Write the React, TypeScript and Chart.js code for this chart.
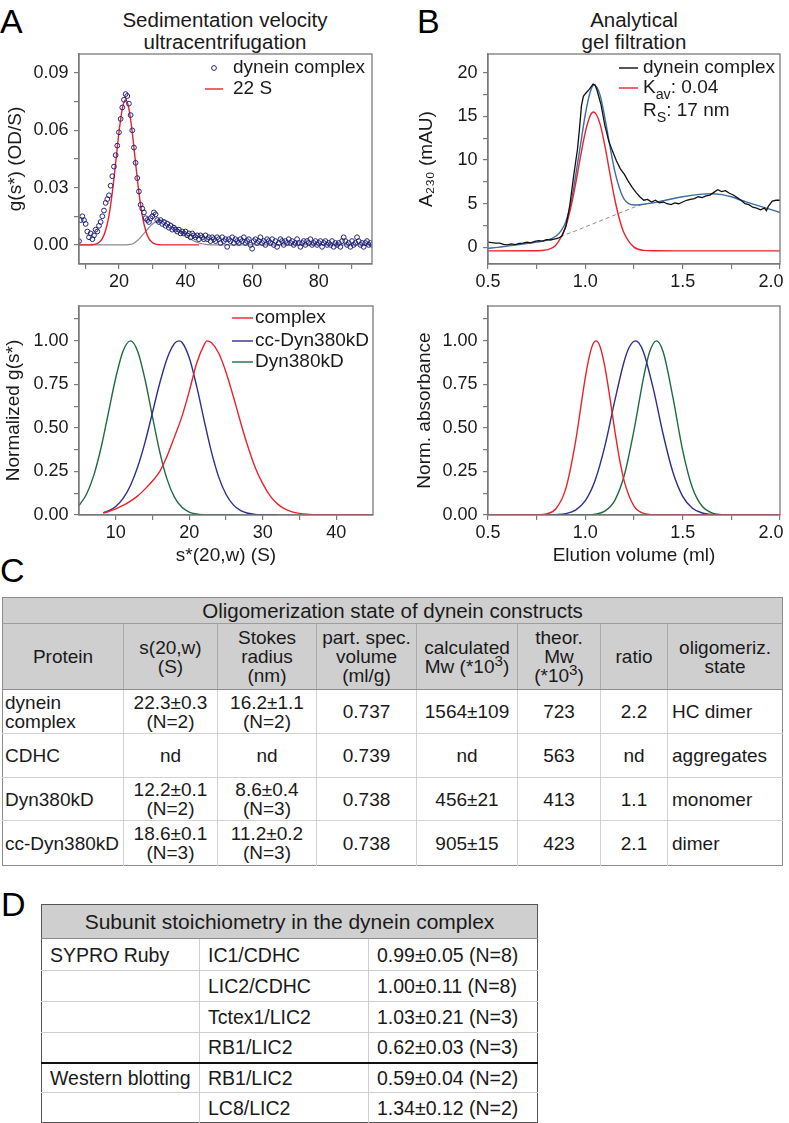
import React, { useEffect, useRef } from "react";
import { Chart, registerables } from "chart.js";

Chart.register(...registerables);

const FONT = '"Liberation Sans", Arial, Helvetica, sans-serif';
Chart.defaults.font.family = FONT;

type Pt = [number, number];

// ---------------- Panel A (top): sedimentation velocity ----------------
const sedPoints: Pt[] = [
  [8.0,0.002],[8.5,0.013],[9.0,0.015],[9.5,0.013],[10.0,0.011],[10.5,0.007],[11.0,0.004],[11.5,0.006],[12.0,0.003],[12.5,0.005],
  [13.0,0.008],[13.5,0.007],[14.0,0.010],[14.5,0.012],[15.0,0.015],[15.5,0.018],[16.0,0.022],[16.5,0.024],[17.0,0.026],[17.5,0.031],
  [18.0,0.036],[18.5,0.041],[19.0,0.047],[19.5,0.052],[20.0,0.059],[20.5,0.066],[21.0,0.072],[21.5,0.076],[22.0,0.079],[22.5,0.078],
  [23.0,0.074],[23.5,0.068],[24.0,0.060],[24.5,0.051],[25.0,0.043],[25.5,0.035],[26.0,0.028],[26.5,0.021],[27.0,0.019],[27.5,0.017],
  [28.0,0.014],[28.5,0.013],[29.0,0.012],[29.5,0.014],[30.0,0.015],[30.5,0.017],[31.0,0.016],[31.5,0.013],[32.0,0.012],[32.5,0.013],
  [33.0,0.011],[33.5,0.012],[34.0,0.010],[34.5,0.011],[35.0,0.009],[35.5,0.010],[36.0,0.008],[36.5,0.009],[37.0,0.008],[37.5,0.007],
  [38.0,0.008],[38.5,0.006],[39.0,0.007],[39.5,0.006],[40.0,0.007],[40.5,0.005],[41.0,0.006],[41.5,0.004],[42.0,0.006],[42.5,0.005],
  [43.0,0.004],[43.5,0.005],[44.0,0.003],[44.5,0.005],[45.0,0.004],[45.5,0.003],[46.0,0.005],[46.5,0.003],[47.0,0.004],[47.5,0.002],
  [48.0,0.004],[48.5,0.003],[49.0,0.002],[49.5,0.004],[50.0,0.003],[50.5,0.001],[51.0,0.004],[51.5,0.002],[52.0,0.003],[52.5,-0.001],
  [53.0,0.003],[53.5,0.002],[54.0,0.004],[54.5,0.001],[55.0,0.003],[55.5,0.002],[56.0,0.001],[56.5,0.003],[57.0,0.002],[57.5,0.004],
  [58.0,0.001],[58.5,0.002],[59.0,0.003],[59.5,0.000],[60.0,-0.002],[60.5,0.002],[61.0,0.003],[61.5,0.001],[62.0,0.002],[62.5,0.004],
  [63.0,0.001],[63.5,0.002],[64.0,0.000],[64.5,0.003],[65.0,0.002],[65.5,0.001],[66.0,0.003],[66.5,0.000],[67.0,0.002],[67.5,-0.001],
  [68.0,0.001],[68.5,0.003],[69.0,0.002],[69.5,0.000],[70.0,0.002],[70.5,0.001],[71.0,0.003],[71.5,0.001],[72.0,0.002],[72.5,0.000],
  [73.0,0.001],[73.5,0.003],[74.0,0.001],[74.5,-0.001],[75.0,0.001],[75.5,0.002],[76.0,0.000],[76.5,0.002],[77.0,0.001],[77.5,0.003],
  [78.0,0.000],[78.5,0.001],[79.0,0.002],[79.5,0.000],[80.0,0.001],[80.5,0.002],[81.0,-0.001],[81.5,0.001],[82.0,0.002],[82.5,0.000],
  [83.0,0.001],[83.5,0.000],[84.0,0.002],[84.5,-0.001],[85.0,0.001],[85.5,0.000],[86.0,0.001],[86.5,-0.001],[87.0,0.002],[87.5,0.004],
  [88.0,0.002],[88.5,0.000],[89.0,0.001],[89.5,-0.001],[90.0,0.002],[90.5,0.000],[91.0,0.001],[91.5,0.004],[92.0,0.002],[92.5,0.000],
  [93.0,0.001],[93.5,-0.001],[94.0,0.001],[94.5,0.002],[95.0,0.000],[95.5,0.001],[96.0,0.000],
];
const fit22S: Pt[] = [
  [8,0],[10,0],[11,0.00002],[12,0.0001],[13,0.0004],[14,0.0013],[15,0.0033],[16,0.0077],[17,0.0154],[18,0.0274],
  [19,0.0428],[20,0.0589],[21,0.0713],[22,0.076],[23,0.0713],[24,0.0589],[25,0.0428],[26,0.0274],[27,0.0154],[28,0.0077],
  [29,0.0033],[30,0.0013],[31,0.0004],[32,0.0001],[34,0],[44,0],
];
const fitSecond: Pt[] = [
  [8,0],[22,0],[23,0.0002],[24,0.0005],[25,0.0015],[26,0.003],[27,0.005],[28,0.007],[29,0.009],[30,0.0108],[31,0.012],
  [32,0.0127],[33,0.013],[34,0.0127],[35,0.012],[36,0.011],[37,0.0095],[38,0.008],[39,0.0065],[40,0.005],[41,0.0037],
  [42,0.0026],[43,0.0017],[44,0.001],[45,0.0006],[46,0.0003],[47,0.0001],[48,0],[96,0],
];
const sedXTicks = [10, 20, 30, 40, 50, 60, 70, 80, 90];
const sedXLabels = [20, 40, 60, 80];
const sedYTicks = [0, 0.015, 0.03, 0.045, 0.06, 0.075, 0.09];
const sedYLabels = [0, 0.03, 0.06, 0.09];

// ---------------- Panel A (bottom): normalized g(s*) ----------------
const normComplex: Pt[] = [
  [8.3,0.012],[9,0.02],[10,0.035],[11,0.055],[12,0.08],[13,0.11],[14,0.15],[15,0.195],[16,0.25],[17,0.34],[18,0.45],
  [19,0.565],[20,0.71],[21,0.87],[22,0.975],[22.4,1.0],[23,0.99],[24,0.93],[25,0.82],[26,0.68],[27,0.53],[28,0.39],
  [29,0.27],[30,0.18],[31,0.11],[32,0.064],[33,0.035],[34,0.018],[35,0.009],[36,0.004],[37,0.002],[38,0.001],[40,0],[45,0],
];
const normCcDyn: Pt[] = [
  [8.3,0.013],[9,0.023],[10,0.049],[11,0.095],[12,0.169],[13,0.278],[14,0.42],[15,0.589],[16,0.759],[17,0.9],[18,0.985],
  [18.6,1.0],[19,0.992],[20,0.903],[21,0.741],[22,0.548],[23,0.365],[24,0.219],[25,0.119],[26,0.058],[27,0.025],[28,0.01],
  [29,0.0036],[30,0.0012],[31,0.0003],[32,0],
];
const normDyn: Pt[] = [
  [5,0.054],[6,0.118],[7,0.226],[8,0.386],[9,0.586],[10,0.788],[11,0.942],[12,1.0],[13,0.938],[14,0.775],[15,0.563],
  [16,0.36],[17,0.203],[18,0.101],[19,0.044],[20,0.017],[21,0.006],[22,0.0017],[23,0.0004],[24,0],[26,0],
];
const normXTicks = [10, 15, 20, 25, 30, 35, 40];
const normXLabels = [10, 20, 30, 40];
const normYTicks = [0, 0.125, 0.25, 0.375, 0.5, 0.625, 0.75, 0.875, 1.0, 1.125];
const normYLabels = [0, 0.25, 0.5, 0.75, 1.0];

// ---------------- Panel B (top): analytical gel filtration ----------------
const gfData: Pt[] = [
  [0.5,0.6],[0.52,0.55],[0.54,0.5],[0.56,0.48],[0.58,0.35],[0.6,0.3],[0.62,0.4],[0.64,0.33],[0.66,0.45],[0.68,0.48],
  [0.7,0.6],[0.72,0.52],[0.74,0.68],[0.76,0.78],[0.78,0.72],[0.8,0.88],[0.82,0.85],[0.84,0.95],[0.86,1.05],[0.88,1.3],
  [0.9,2.4],[0.92,4.8],[0.94,8.2],[0.96,11.3],[0.97,13.6],[0.98,16.2],[0.99,17.3],[1.0,17.6],[1.02,18.1],[1.04,18.7],
  [1.05,18.6],[1.06,18.0],[1.08,16.4],[1.1,14.0],[1.12,12.2],[1.14,11.0],[1.16,9.9],[1.18,9.0],[1.2,8.4],[1.22,7.6],
  [1.24,6.9],[1.26,6.3],[1.28,5.8],[1.3,5.4],[1.32,5.5],[1.34,5.2],[1.36,5.4],[1.38,5.1],[1.4,5.2],[1.42,5.0],
  [1.44,4.9],[1.46,5.1],[1.48,5.0],[1.5,5.2],[1.52,5.4],[1.54,5.5],[1.56,5.6],[1.58,5.8],[1.6,5.7],[1.62,5.9],
  [1.64,6.0],[1.66,6.3],[1.68,6.6],[1.7,6.4],[1.72,6.5],[1.74,6.2],[1.76,6.0],[1.78,5.7],[1.8,5.4],[1.82,5.0],
  [1.84,4.9],[1.86,4.6],[1.88,4.5],[1.9,4.3],[1.92,4.5],[1.93,4.2],[1.94,4.7],[1.96,5.3],[1.98,5.4],[2.0,5.4],
];
const gfPeakFit: Pt[] = [
  [0.5,-0.4],[0.75,-0.39],[0.8,-0.29],[0.85,0.29],[0.9,2.44],[0.925,4.52],[0.95,7.27],[0.975,10.37],[1.0,13.2],
  [1.025,15.07],[1.043,15.5],[1.075,14.18],[1.1,11.69],[1.125,8.62],[1.15,5.66],[1.175,3.26],[1.2,1.59],[1.25,0.03],
  [1.3,-0.34],[1.35,-0.39],[1.5,-0.4],[2.0,-0.4],
];
const gfTotalFit: Pt[] = [
  [0.5,-0.1],[0.55,0.0],[0.6,0.15],[0.65,0.3],[0.7,0.45],[0.75,0.6],[0.8,0.8],[0.85,1.3],[0.875,1.9],[0.9,2.95],
  [0.925,4.95],[0.95,8.2],[0.975,11.7],[1.0,15.25],[1.025,17.8],[1.045,18.6],[1.075,17.5],[1.1,14.9],[1.125,11.75],
  [1.15,8.85],[1.175,6.8],[1.2,5.5],[1.25,4.85],[1.3,4.95],[1.35,5.1],[1.4,5.35],[1.5,5.8],[1.6,6.1],[1.65,6.15],
  [1.7,6.05],[1.75,5.8],[1.8,5.4],[1.85,5.05],[1.9,4.7],[1.95,4.35],[2.0,4.0],
];
const gfBaseline: Pt[] = [
  [0.87,1.25],[0.95,1.9],[1.0,2.35],[1.05,2.8],[1.1,3.25],[1.15,3.7],[1.2,4.15],[1.25,4.6],[1.3,4.95],[1.35,5.15],
];
const elXTicks = [0.5, 0.75, 1.0, 1.25, 1.5, 1.75, 2.0];
const elXLabels = [0.5, 1.0, 1.5, 2.0];
const gfYTicks = [0, 2.5, 5, 7.5, 10, 12.5, 15, 17.5, 20];
const gfYLabels = [0, 5, 10, 15, 20];

// ---------------- Panel B (bottom): normalized absorbance ----------------
const elComplex: Pt[] = [
  [0.5,0],[0.7,0],[0.75,0.0007],[0.8,0.0062],[0.85,0.0376],[0.9,0.153],[0.95,0.423],[0.975,0.607],[1.0,0.79],
  [1.025,0.932],[1.04,0.983],[1.055,1.0],[1.075,0.969],[1.1,0.854],[1.125,0.682],[1.15,0.494],[1.175,0.325],
  [1.2,0.193],[1.25,0.051],[1.3,0.0092],[1.35,0.0011],[1.4,0],[2.0,0],
];
const elCcDyn: Pt[] = [
  [0.7,0],[0.75,0.0001],[0.8,0.0004],[0.85,0.0019],[0.9,0.0081],[0.95,0.0284],[1.0,0.082],[1.05,0.198],[1.1,0.394],
  [1.15,0.649],[1.2,0.884],[1.225,0.962],[1.257,1.0],[1.275,0.988],[1.3,0.932],[1.35,0.721],[1.4,0.462],[1.45,0.245],
  [1.5,0.107],[1.55,0.039],[1.6,0.0117],[1.65,0.0029],[1.7,0.0006],[1.75,0.0001],[1.8,0],[2.0,0],
];
const elDyn: Pt[] = [
  [0.85,0],[0.95,0.0001],[1.0,0.0007],[1.05,0.0046],[1.1,0.022],[1.15,0.081],[1.2,0.228],[1.25,0.487],[1.3,0.795],
  [1.33,0.936],[1.365,1.0],[1.4,0.936],[1.45,0.675],[1.5,0.371],[1.55,0.156],[1.6,0.05],[1.65,0.012],[1.7,0.0022],
  [1.75,0.0003],[1.8,0],[2.0,0],
];

// ---------------- Table C ----------------
const tableCTitle = "Oligomerization state of dynein constructs";
const tableCHeaders = [
  "Protein",
  "s(20,w)\n(S)",
  "Stokes\nradius\n(nm)",
  "part. spec.\nvolume\n(ml/g)",
  "calculated\nMw (*10^{3})",
  "theor.\nMw\n(*10^{3})",
  "ratio",
  "oligomeriz.\nstate",
];
const tableCRows = [
  ["dynein\ncomplex", "22.3±0.3\n(N=2)", "16.2±1.1\n(N=2)", "0.737", "1564±109", "723", "2.2", "HC dimer"],
  ["CDHC", "nd", "nd", "0.739", "nd", "563", "nd", "aggregates"],
  ["Dyn380kD", "12.2±0.1\n(N=2)", "8.6±0.4\n(N=3)", "0.738", "456±21", "413", "1.1", "monomer"],
  ["cc-Dyn380kD", "18.6±0.1\n(N=3)", "11.2±0.2\n(N=3)", "0.738", "905±15", "423", "2.1", "dimer"],
];

// ---------------- Table D ----------------
const tableDTitle = "Subunit stoichiometry in the dynein complex";
const tableDRows = [
  ["SYPRO Ruby", "IC1/CDHC", "0.99±0.05 (N=8)"],
  ["", "LIC2/CDHC", "1.00±0.11 (N=8)"],
  ["", "Tctex1/LIC2", "1.03±0.21 (N=3)"],
  ["", "RB1/LIC2", "0.62±0.03 (N=3)"],
  ["Western blotting", "RB1/LIC2", "0.59±0.04 (N=2)"],
  ["", "LC8/LIC2", "1.34±0.12 (N=2)"],
];

// ---------------- styling ----------------
const RED = "#e8232b";
const NAVY = "#23237d";
const INDIGO = "#2e2e8c";
const GREEN = "#1f6a45";
const STEEL = "#3b6da6";
const GRAY = "#8a8a8a";
const AXIS = "#7a7a7a";
const TXT = "#1a1a1a";

const toXY = (pts: Pt[]) => pts.map(([x, y]) => ({ x, y }));

function parseRich(s: string) {
  const out: { t: string; sub?: boolean; sup?: boolean }[] = [];
  const re = /(_\{[^}]*\}|\^\{[^}]*\})/;
  s.split(re).forEach((p) => {
    if (!p) return;
    if (p.startsWith("_{")) out.push({ t: p.slice(2, -1), sub: true });
    else if (p.startsWith("^{")) out.push({ t: p.slice(2, -1), sup: true });
    else out.push({ t: p });
  });
  return out;
}

const framePlugin = {
  id: "frame",
  afterDraw(chart: any) {
    const { ctx, chartArea: a } = chart;
    ctx.save();
    ctx.strokeStyle = AXIS;
    ctx.lineWidth = 1.3;
    ctx.strokeRect(a.left, a.top, a.right - a.left, a.bottom - a.top);
    ctx.restore();
  },
};

const insideLegend = {
  id: "insideLegend",
  afterDraw(chart: any, _args: any, opts: any) {
    if (!opts || !opts.rows) return;
    const ctx = chart.ctx;
    ctx.save();
    opts.rows.forEach((row: any) => {
      const ds = row.ds !== undefined ? chart.data.datasets[row.ds] : null;
      const color = ds ? (row.marker === "circle" ? ds.pointBorderColor : ds.borderColor) : TXT;
      const text = row.text ?? (ds ? ds.label : "");
      const y = row.y;
      if (row.marker === "line") {
        ctx.strokeStyle = color;
        ctx.lineWidth = 1.4;
        ctx.beginPath();
        ctx.moveTo(opts.markerX, y);
        ctx.lineTo(opts.markerX + opts.markerLen, y);
        ctx.stroke();
      } else if (row.marker === "circle") {
        ctx.strokeStyle = color;
        ctx.lineWidth = 1;
        ctx.beginPath();
        ctx.arc(opts.markerX + opts.markerLen / 2, y, 2.4, 0, Math.PI * 2);
        ctx.stroke();
      }
      let tx = opts.textX;
      ctx.fillStyle = TXT;
      ctx.textBaseline = "middle";
      ctx.textAlign = "left";
      parseRich(text).forEach((seg) => {
        const size = seg.sub ? opts.size * 0.75 : opts.size;
        ctx.font = `${size}px ${FONT}`;
        ctx.fillText(seg.t, tx, y + (seg.sub ? opts.size * 0.38 : 0));
        tx += ctx.measureText(seg.t).width;
      });
    });
    ctx.restore();
  },
};

function makeAxis(o: any, isX: boolean) {
  const has = (arr: number[], v: number) => arr.some((l) => Math.abs(l - v) < 1e-9);
  return {
    type: "linear",
    position: isX ? "bottom" : "left",
    min: o.min,
    max: o.max,
    afterBuildTicks: (s: any) => {
      s.ticks = o.ticks.map((v: number) => ({ value: v }));
    },
    afterFit: (s: any) => {
      if (isX) s.height = o.size;
      else s.width = o.size;
      s.paddingLeft = 0;
      s.paddingRight = 0;
      s.paddingTop = 0;
      s.paddingBottom = 0;
    },
    grid: { drawOnChartArea: false, drawTicks: true, tickLength: 5, color: AXIS, lineWidth: 1.2 },
    border: { display: true, color: AXIS, width: 1.3 },
    ticks: {
      autoSkip: false,
      maxRotation: 0,
      minRotation: 0,
      padding: isX ? 2 : 5.5,
      color: TXT,
      font: { family: FONT, size: 18 },
      callback: (v: number) => {
        if (!has(o.labels, v)) return "";
        const s = v.toFixed(o.digits);
        return o.padLast && Math.abs(v - o.max) < 1e-9 ? s + "\u2003" : s;
      },
    },
    title: o.title
      ? {
          display: true,
          text: o.title,
          color: TXT,
          font: { family: FONT, size: 19 },
          padding: { top: o.titlePad, bottom: o.titlePad },
        }
      : { display: false },
  };
}

function makeOptions(x: any, y: any, padding: any, legend: any) {
  return {
    responsive: false,
    maintainAspectRatio: false,
    animation: false,
    events: [],
    layout: { padding },
    scales: { x: makeAxis(x, true), y: makeAxis(y, false) },
    plugins: {
      legend: { display: false },
      tooltip: { enabled: false },
      insideLegend: legend,
    },
  };
}

const curve = (label: string, pts: Pt[], color: string, extra: any = {}) => ({
  label,
  data: toXY(pts),
  showLine: true,
  pointRadius: 0,
  borderColor: color,
  backgroundColor: color,
  borderWidth: 1.4,
  cubicInterpolationMode: "monotone",
  ...extra,
});

function sedConfig(): any {
  return {
    type: "scatter",
    data: {
      datasets: [
        {
          label: "dynein complex",
          data: toXY(sedPoints),
          showLine: false,
          pointRadius: 2.4,
          pointBorderWidth: 1,
          pointBorderColor: NAVY,
          pointBackgroundColor: "rgba(255,255,255,0)",
          borderColor: NAVY,
        },
        curve("22 S", fit22S, RED),
        curve("second species", fitSecond, GRAY, { borderWidth: 1.2 }),
      ],
    },
    options: makeOptions(
      { min: 8, max: 96, ticks: sedXTicks, labels: sedXLabels, digits: 0, size: 26 },
      { min: -0.01, max: 0.1, ticks: sedYTicks, labels: sedYLabels, digits: 2, size: 79, title: "g(s*) (OD/S)", titlePad: 4.5 },
      { left: 0, top: 14, right: 18, bottom: 0 },
      {
        markerX: 205, markerLen: 18, textX: 233, size: 19,
        rows: [ { ds: 0, marker: "circle", y: 28 }, { ds: 1, marker: "line", y: 49 } ],
      }
    ),
    plugins: [framePlugin, insideLegend],
  };
}

function normConfig(): any {
  return {
    type: "scatter",
    data: {
      datasets: [
        curve("complex", normComplex, RED),
        curve("cc-Dyn380kD", normCcDyn, INDIGO),
        curve("Dyn380kD", normDyn, GREEN),
      ],
    },
    options: makeOptions(
      { min: 5, max: 45, ticks: normXTicks, labels: normXLabels, digits: 0, size: 60, title: "s*(20,w) (S)", titlePad: 7.5 },
      { min: 0, max: 1.2, ticks: normYTicks, labels: normYLabels, digits: 2, size: 79, title: "Normalized g(s*)", titlePad: 2 },
      { left: 0, top: 11, right: 17, bottom: 0 },
      {
        markerX: 232, markerLen: 21, textX: 255, size: 19,
        rows: [ { ds: 0, marker: "line", y: 23 }, { ds: 1, marker: "line", y: 46 }, { ds: 2, marker: "line", y: 67 } ],
      }
    ),
    plugins: [framePlugin, insideLegend],
  };
}

function gfConfig(): any {
  return {
    type: "scatter",
    data: {
      datasets: [
        curve("dynein complex", gfData, "#111111", { cubicInterpolationMode: "default", tension: 0, borderWidth: 1.3 }),
        curve("K_{av}: 0.04", gfPeakFit, RED),
        curve("total fit", gfTotalFit, STEEL),
        curve("baseline", gfBaseline, GRAY, { borderWidth: 1, borderDash: [4, 3] }),
      ],
    },
    options: makeOptions(
      { min: 0.5, max: 2.0, ticks: elXTicks, labels: elXLabels, digits: 1, size: 26, padLast: true },
      { min: -1.9, max: 22.15, ticks: gfYTicks, labels: gfYLabels, digits: 0, size: 88, title: "A\u2082\u2083\u2080 (mAU)", titlePad: 15 },
      { left: 0, top: 14, right: 9, bottom: 0 },
      {
        markerX: 219, markerLen: 19, textX: 243, size: 19,
        rows: [
          { ds: 0, marker: "line", y: 28 },
          { ds: 1, marker: "line", y: 48 },
          { text: "R_{S}: 17 nm", marker: "none", y: 71 },
        ],
      }
    ),
    plugins: [framePlugin, insideLegend],
  };
}

function elConfig(): any {
  return {
    type: "scatter",
    data: {
      datasets: [
        curve("complex", elComplex, RED),
        curve("cc-Dyn380kD", elCcDyn, INDIGO),
        curve("Dyn380kD", elDyn, GREEN),
      ],
    },
    options: makeOptions(
      { min: 0.5, max: 2.0, ticks: elXTicks, labels: elXLabels, digits: 1, size: 60, padLast: true, title: "Elution volume (ml)", titlePad: 7.5 },
      { min: 0, max: 1.2, ticks: normYTicks, labels: normYLabels, digits: 2, size: 88, title: "Norm. absorbance", titlePad: 13.5 },
      { left: 0, top: 11, right: 9, bottom: 0 },
      null
    ),
    plugins: [framePlugin, insideLegend],
  };
}

function ChartCanvas(props: { left: number; top: number; width: number; height: number; make: () => any }) {
  const ref = useRef<HTMLCanvasElement>(null);
  useEffect(() => {
    const chart = new Chart(ref.current as HTMLCanvasElement, props.make());
    return () => chart.destroy();
  }, []);
  return (
    <canvas
      ref={ref}
      width={props.width}
      height={props.height}
      style={{ position: "absolute", left: props.left, top: props.top, width: props.width, height: props.height }}
    />
  );
}

function Rich({ s }: { s: string }) {
  const lines = s.split("\n");
  return (
    <>
      {lines.map((ln, i) => (
        <React.Fragment key={i}>
          {i > 0 && <br />}
          {parseRich(ln).map((seg, j) =>
            seg.sup ? (
              <sup key={j} style={{ fontSize: "0.8em", lineHeight: 0, verticalAlign: "0.45em" }}>{seg.t}</sup>
            ) : (
              <span key={j}>{seg.t}</span>
            )
          )}
        </React.Fragment>
      ))}
    </>
  );
}

const letterStyle = (left: number, top: number): React.CSSProperties => ({
  position: "absolute", left, top, fontSize: 34, lineHeight: "34px", fontFamily: FONT, color: "#000",
});

const titleStyle = (center: number): React.CSSProperties => ({
  position: "absolute", left: center - 150, width: 300, top: 8.5, textAlign: "center",
  fontSize: 20.5, lineHeight: "22px", fontFamily: FONT, color: TXT,
});

function TableC() {
  const widths = [121, 94, 99, 100, 101, 83, 67, 115];
  const rowH = [44, 44, 43, 45];
  const hdrBorder = "1px solid #a9a9a9";
  const cellBorder = "1px solid #d2d2d2";
  return (
    <table
      style={{
        position: "absolute", left: 2, top: 597, width: 780, borderCollapse: "collapse", tableLayout: "fixed",
        fontFamily: FONT, fontSize: 19, lineHeight: "19px", color: TXT, border: "1.5px solid #8c8c8c",
      }}
    >
      <colgroup>{widths.map((w, i) => <col key={i} style={{ width: w }} />)}</colgroup>
      <tbody>
        <tr style={{ height: 26, background: "#cfcfcf" }}>
          <td colSpan={8} style={{ textAlign: "center", fontSize: 20.5, padding: 0, borderBottom: "1px solid #9d9d9d" }}>
            {tableCTitle}
          </td>
        </tr>
        <tr style={{ height: 66, background: "#cfcfcf" }}>
          {tableCHeaders.map((h, i) => (
            <td key={i} style={{ textAlign: "center", padding: 0, borderLeft: i ? hdrBorder : undefined, borderBottom: "1.5px solid #8c8c8c" }}>
              <Rich s={h} />
            </td>
          ))}
        </tr>
        {tableCRows.map((r, ri) => (
          <tr key={ri} style={{ height: rowH[ri], background: "#fff" }}>
            {r.map((c, ci) => (
              <td
                key={ci}
                style={{
                  textAlign: ci === 0 || ci === 7 ? "left" : "center",
                  padding: ci === 0 ? "0 0 0 2px" : ci === 7 ? "0 0 0 4px" : 0,
                  borderLeft: ci ? cellBorder : undefined,
                  borderTop: ri ? cellBorder : undefined,
                  whiteSpace: "nowrap",
                }}
              >
                <Rich s={c} />
              </td>
            ))}
          </tr>
        ))}
      </tbody>
    </table>
  );
}

function TableD() {
  const widths = [158, 169, 169];
  const rowH = [32, 31, 31, 30, 30, 30];
  const cellBorder = "1px solid #cfcfcf";
  return (
    <table
      style={{
        position: "absolute", left: 41, top: 904, width: 496, borderCollapse: "collapse", tableLayout: "fixed",
        fontFamily: FONT, fontSize: 19.5, lineHeight: "20px", color: TXT, border: "1.5px solid #555",
      }}
    >
      <colgroup>{widths.map((w, i) => <col key={i} style={{ width: w }} />)}</colgroup>
      <tbody>
        <tr style={{ height: 34, background: "#cfcfcf" }}>
          <td colSpan={3} style={{ textAlign: "center", fontSize: 21, padding: 0, borderBottom: "1.5px solid #8a8a8a" }}>
            {tableDTitle}
          </td>
        </tr>
        {tableDRows.map((r, ri) => (
          <tr key={ri} style={{ height: rowH[ri] }}>
            {r.map((c, ci) => (
              <td
                key={ci}
                style={{
                  textAlign: "left",
                  padding: "0 0 0 8px",
                  whiteSpace: "nowrap",
                  borderLeft: ci ? cellBorder : undefined,
                  borderTop: ri === 4 ? "2px solid #111" : ri ? cellBorder : undefined,
                }}
              >
                {c}
              </td>
            ))}
          </tr>
        ))}
      </tbody>
    </table>
  );
}

export default function App() {
  return (
    <div
      style={{
        position: "absolute", left: 0, top: 0, width: 789, height: 1123, overflow: "hidden",
        background: "#fff", fontFamily: FONT,
      }}
    >
      <div style={letterStyle(0, 3.5)}>A</div>
      <div style={letterStyle(417, 3.5)}>B</div>
      <div style={letterStyle(0, 553)}>C</div>
      <div style={letterStyle(1, 887)}>D</div>

      <div style={titleStyle(225)}>Sedimentation velocity<br />ultracentrifugation</div>
      <div style={titleStyle(634)}>Analytical<br />gel filtration</div>

      <ChartCanvas left={0} top={40} width={390} height={250} make={sedConfig} />
      <ChartCanvas left={400} top={40} width={389} height={250} make={gfConfig} />
      <ChartCanvas left={0} top={295} width={390} height={280} make={normConfig} />
      <ChartCanvas left={400} top={295} width={389} height={280} make={elConfig} />

      <TableC />
      <TableD />
    </div>
  );
}
